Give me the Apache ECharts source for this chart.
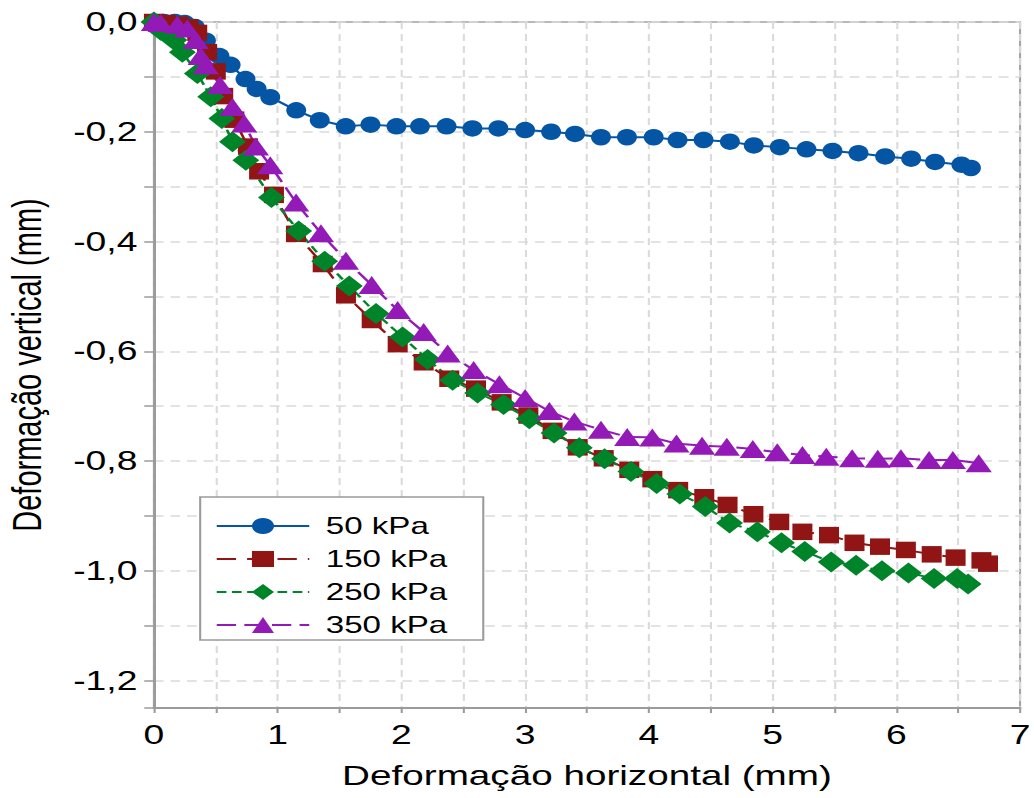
<!DOCTYPE html>
<html>
<head>
<meta charset="utf-8">
<script src="https://cdn.jsdelivr.net/npm/echarts@6/dist/echarts.min.js"></script>
<style>
  html, body { margin: 0; padding: 0; background: #fff; overflow: hidden; }
  /* the chart is laid out narrow and widened horizontally */
  #chart { width: 749px; height: 798px; transform: scaleX(1.3805); transform-origin: 0 0; }
</style>
</head>
<body>
<div id="chart"></div>
<script>
// Horizontal (h) and vertical (v) deformation, mm, for each normal stress
const h50 = [0, 0.08, 0.17, 0.25, 0.33, 0.42, 0.53, 0.62, 0.74, 0.83, 0.94, 1.15, 1.34, 1.55, 1.75, 1.96, 2.15, 2.365, 2.574, 2.784, 3.0, 3.21, 3.403, 3.613, 3.823, 4.039, 4.232, 4.442, 4.655, 4.848, 5.058, 5.274, 5.484, 5.694, 5.91, 6.12, 6.313, 6.526, 6.603];
const v50 = [0, 0, 0, -0.002, -0.009, -0.034, -0.062, -0.078, -0.104, -0.122, -0.137, -0.161, -0.179, -0.19, -0.187, -0.19, -0.19, -0.19, -0.194, -0.194, -0.197, -0.2, -0.204, -0.21, -0.21, -0.21, -0.215, -0.215, -0.218, -0.225, -0.228, -0.232, -0.235, -0.239, -0.245, -0.249, -0.255, -0.26, -0.266];

const h150 = [0, 0.1, 0.2, 0.28, 0.35, 0.43, 0.5, 0.56, 0.65, 0.76, 0.85, 0.97, 1.148, 1.364, 1.552, 1.76, 1.97, 2.18, 2.387, 2.603, 2.81, 3.026, 3.222, 3.425, 3.635, 3.842, 4.028, 4.237, 4.448, 4.636, 4.845, 5.054, 5.241, 5.456, 5.662, 5.868, 6.077, 6.286, 6.479, 6.688, 6.741];
const v150 = [0, -0.002, -0.005, -0.01, -0.02, -0.055, -0.09, -0.135, -0.178, -0.227, -0.272, -0.315, -0.386, -0.441, -0.498, -0.543, -0.587, -0.62, -0.65, -0.668, -0.693, -0.717, -0.745, -0.775, -0.795, -0.816, -0.833, -0.853, -0.866, -0.88, -0.897, -0.911, -0.929, -0.935, -0.949, -0.956, -0.962, -0.97, -0.976, -0.981, -0.987];

const h250 = [0, 0.054, 0.162, 0.23, 0.351, 0.459, 0.549, 0.635, 0.743, 0.95, 1.17, 1.38, 1.579, 1.795, 2.01, 2.212, 2.414, 2.616, 2.826, 3.034, 3.234, 3.438, 3.642, 3.855, 4.063, 4.25, 4.456, 4.652, 4.877, 5.072, 5.26, 5.474, 5.675, 5.884, 6.098, 6.305, 6.492, 6.58];
const v250 = [0, -0.015, -0.033, -0.055, -0.094, -0.136, -0.176, -0.218, -0.252, -0.32, -0.381, -0.436, -0.481, -0.531, -0.574, -0.615, -0.653, -0.676, -0.697, -0.723, -0.749, -0.776, -0.796, -0.819, -0.841, -0.86, -0.883, -0.913, -0.929, -0.949, -0.965, -0.984, -0.99, -1.0, -1.004, -1.014, -1.014, -1.024];

const h350 = [0, 0.054, 0.189, 0.27, 0.338, 0.378, 0.419, 0.535, 0.635, 0.73, 0.824, 0.94, 1.149, 1.35, 1.552, 1.76, 1.97, 2.18, 2.374, 2.584, 2.792, 3.0, 3.196, 3.398, 3.613, 3.825, 4.028, 4.223, 4.43, 4.63, 4.84, 5.038, 5.241, 5.434, 5.643, 5.85, 6.037, 6.265, 6.457, 6.666];
const v350 = [0, -0.002, -0.005, -0.012, -0.033, -0.062, -0.079, -0.115, -0.155, -0.185, -0.227, -0.261, -0.329, -0.385, -0.435, -0.479, -0.525, -0.565, -0.604, -0.634, -0.66, -0.685, -0.709, -0.728, -0.743, -0.756, -0.757, -0.768, -0.772, -0.774, -0.778, -0.784, -0.789, -0.792, -0.795, -0.796, -0.795, -0.798, -0.798, -0.804];

const seriesNames = ['50 kPa', '150 kPa', '250 kPa', '350 kPa'];

const zip = (xs, ys) => xs.map((x, i) => [x, ys[i]]);
const FONT = 'Liberation Sans, Arial, sans-serif';

const chart = echarts.init(document.getElementById('chart'), null, { renderer: 'svg' });

function lineSeries(name, xs, ys, color, symbol, size, dash) {
  return {
    name: name,
    type: 'line',
    data: zip(xs, ys),
    symbol: symbol,
    symbolSize: size,
    showAllSymbol: true,
    clip: false,
    itemStyle: { color: color },
    lineStyle: { color: color, width: 2, type: dash },
    emphasis: { disabled: true },
    animation: false
  };
}

const gridLine = { show: true, lineStyle: { color: '#dadada', width: 1.5, type: [7, 5] } };

chart.setOption({
  backgroundColor: '#ffffff',
  animation: false,
  grid: {
    left: 111.5, right: 10.1, top: 22, bottom: 90,
    outerBoundsMode: 'none',
    show: true, borderColor: '#a3a3a3', borderWidth: 1.5, backgroundColor: 'transparent'
  },
  legend: {
    data: seriesNames,
    orient: 'vertical',
    left: 145, top: 497,
    padding: [17, 26, 3, 11],
    itemWidth: 67, itemHeight: 20, itemGap: 9,
    backgroundColor: '#ffffff',
    borderColor: '#9a9a9a', borderWidth: 1.5,
    textStyle: { fontFamily: FONT, fontSize: 24, color: '#000', lineHeight: 24, padding: [0, 0, 0, 7] },
    selectedMode: false
  },
  xAxis: {
    type: 'value',
    min: 0, max: 7, interval: 0.5,
    name: 'Deformação horizontal (mm)',
    nameLocation: 'middle',
    nameGap: 53,
    nameTextStyle: { fontFamily: FONT, fontSize: 28, color: '#000' },
    axisLine: { show: true, onZero: false, lineStyle: { color: '#9b9b9b', width: 2 } },
    axisTick: { show: true, length: 5, lineStyle: { color: '#9b9b9b', width: 1.5 } },
    axisLabel: {
      margin: 13, fontFamily: FONT, fontSize: 27, color: '#000',
      formatter: v => (Math.abs(v - Math.round(v)) < 1e-6 ? String(Math.round(v)) : '')
    },
    splitLine: gridLine
  },
  yAxis: {
    type: 'value',
    min: -1.25, max: 0,
    splitNumber: 12, minInterval: 0.1, maxInterval: 0.1,
    name: 'Deformação vertical (mm)',
    nameLocation: 'middle',
    nameRotate: 90,
    nameGap: 78,
    nameTextStyle: { fontFamily: FONT, fontSize: 29, color: '#000' },
    axisLine: { show: true, onZero: false, lineStyle: { color: '#9b9b9b', width: 2 } },
    axisTick: { show: true, length: 7, lineStyle: { color: '#9b9b9b', width: 1.5 } },
    axisLabel: {
      margin: 12, fontFamily: FONT, fontSize: 27, color: '#000',
      formatter: v => {
        const k = Math.round(v * 10);
        if (Math.abs(v * 10 - k) > 1e-6 || k % 2 !== 0) return '';
        return (k / 10).toFixed(1).replace('.', ',');
      }
    },
    splitLine: gridLine
  },
  series: [
    lineSeries(seriesNames[0], h50, v50, '#0456A5', 'circle', [14.5, 16.5], 'solid'),
    lineSeries(seriesNames[1], h150, v150, '#921515', 'rect', [14.5, 16.5], [14, 8]),
    lineSeries(seriesNames[2], h250, v250, '#00842A', 'diamond', [19.5, 21], [7, 4]),
    lineSeries(seriesNames[3], h350, v350, '#931AB7', 'triangle', [19, 18], [14, 6])
  ]
});
</script>
</body>
</html>
